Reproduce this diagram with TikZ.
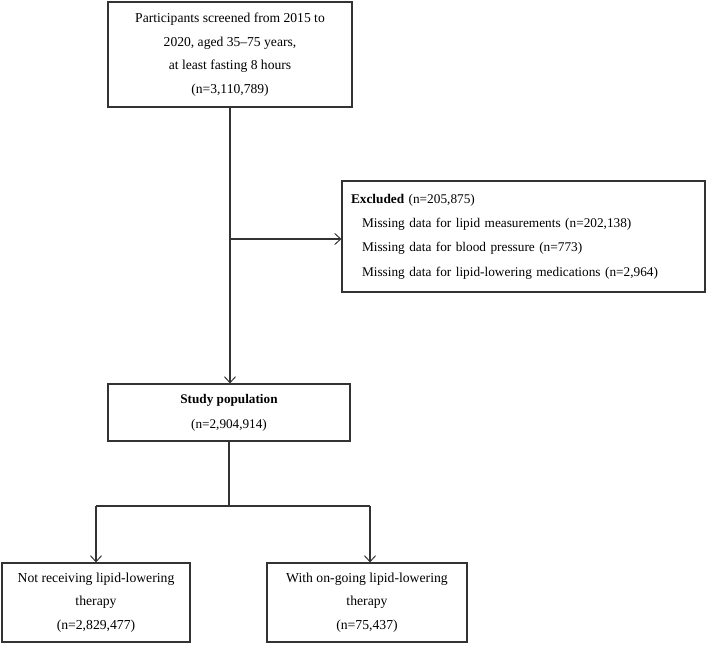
\documentclass[tikz,border=0pt]{standalone}
\usepackage{fontspec}
\setmainfont{Liberation Serif}
\usetikzlibrary{arrows.meta}
\tikzset{
  box/.style={draw=black!80, line width=1.1pt, rectangle, align=center, inner sep=0pt,
    font=\fontsize{13.6}{23.5}\selectfont},
  conn/.style={draw=black!80, line width=1.1pt},
  arr/.style={conn, -{Straight Barb[length=6pt,width=11pt,line width=1pt]}}
}
\begin{document}
\begin{tikzpicture}[x=1pt,y=-1pt]
\useasboundingbox (0,0) rectangle (708,644);
\node[box, minimum width=244pt, minimum height=105pt] (top) at (230,54.5)
  {Participants screened from 2015 to\\2020, aged 35--75 years,\\at least fasting 8 hours\\(n=3,110,789)};
\node[box, minimum width=363pt, minimum height=111pt, text width=345pt, align=left,
  font=\fontsize{13.3}{24.3}\selectfont] (excl) at (523.5,236.5)
  {\textbf{Excluded} (n=205,875)\\
   \hspace*{11pt}Missing data for lipid measurements (n=202,138)\\
   \hspace*{11pt}Missing data for blood pressure (n=773)\\
   \hspace*{11pt}Missing data for lipid-lowering medications (n=2,964)};
\node[box, minimum width=242pt, minimum height=57pt, font=\fontsize{13.2}{25}\selectfont] (study) at (229,412.5)
  {\textbf{Study population}\\(n=2,904,914)};
\node[box, minimum width=188pt, minimum height=79pt, font=\fontsize{13.7}{23.5}\selectfont] (left) at (96,602.5)
  {Not receiving lipid-lowering\\therapy\\(n=2,829,477)};
\node[box, minimum width=200pt, minimum height=79pt, font=\fontsize{13.7}{23.5}\selectfont] (right) at (367,602.5)
  {With on-going lipid-lowering\\therapy\\(n=75,437)};
\coordinate (br) at (230,239);
\coordinate (split) at (229,506);
\coordinate (lj) at (96,506);
\coordinate (rj) at (370,506);
\draw[arr] (top.south) -- (top.south |- study.north);
\draw[arr] (br) -- (br -| excl.west);
\draw[conn] (study.south) -- (split);
\draw[conn] (lj) -- (rj);
\draw[arr] (lj) -- (lj |- left.north);
\draw[arr] (rj) -- (rj |- right.north);
\end{tikzpicture}
\end{document}
